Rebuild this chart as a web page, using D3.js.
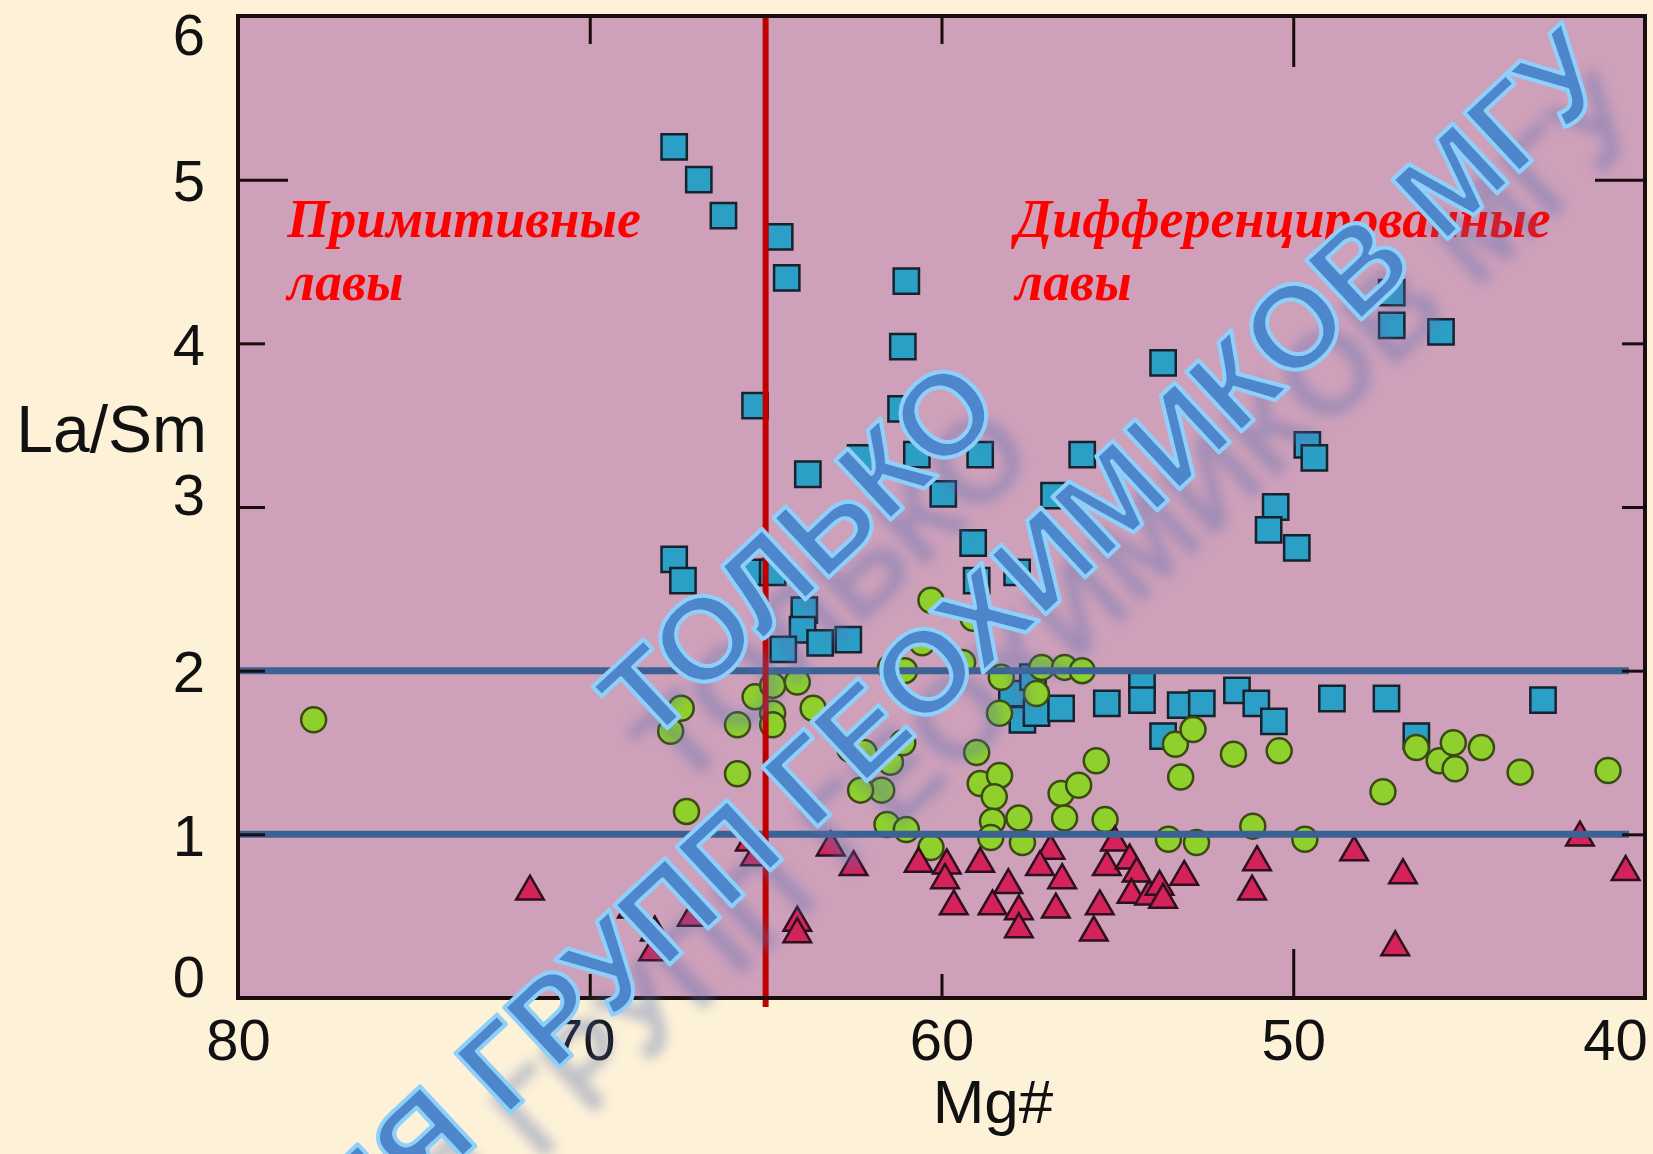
<!DOCTYPE html>
<html>
<head>
<meta charset="utf-8">
<script src="https://cdn.jsdelivr.net/npm/d3@7"></script>
<style>
  body { margin: 0; background: #fdf2d8; }
  svg { display: block; }
</style>
</head>
<body>
<svg id="chart"></svg>
<script>
// data: [Mg#, La/Sm]
var squares = [
  [67.6, 5.2], [66.9, 5.0], [66.2, 4.78], [64.6, 4.65], [64.4, 4.4], [61.0, 4.38], [61.1, 3.98],
  [65.3, 3.62], [61.15, 3.6], [63.8, 3.2], [62.3, 3.3], [60.7, 3.32], [58.9, 3.32], [59.95, 3.08],
  [56.0, 3.32], [56.8, 3.07], [59.1, 2.78], [59.0, 2.55], [57.85, 2.6], [67.6, 2.68], [67.35, 2.55],
  [65.4, 2.6], [64.8, 2.6], [63.9, 2.37], [63.95, 2.25], [64.5, 2.13], [63.45, 2.17], [62.65, 2.19],
  [58.0, 1.86], [57.7, 1.7], [57.3, 1.74], [56.6, 1.77], [57.4, 1.96], [55.3, 1.8], [54.3, 1.93],
  [54.3, 1.82], [53.7, 1.6], [53.2, 1.79], [52.6, 1.8], [51.6, 1.88], [51.05, 1.8], [50.55, 1.69],
  [48.9, 1.83], [47.35, 1.83], [46.5, 1.6], [42.9, 1.82], [49.6, 3.38], [49.4, 3.3], [50.5, 3.0],
  [50.7, 2.86], [49.9, 2.75], [47.2, 4.31], [47.2, 4.11], [45.8, 4.07], [53.7, 3.88]
];
var circles = [
  [77.85, 1.7], [67.4, 1.77], [67.7, 1.63], [65.8, 1.67], [65.3, 1.84], [64.8, 1.91], [64.1, 1.93],
  [64.8, 1.74], [64.8, 1.67], [63.65, 1.77], [65.8, 1.37], [67.25, 1.14], [62.6, 1.52], [62.2, 1.5],
  [61.45, 1.44], [61.7, 1.27], [62.3, 1.27], [60.3, 2.43], [59.1, 2.32], [60.55, 2.17], [61.45, 2.02],
  [61.05, 2.0], [59.4, 2.05], [58.3, 1.96], [57.15, 2.02], [56.5, 2.02], [56.0, 2.0], [57.3, 1.86],
  [58.35, 1.74], [61.1, 1.56], [59.0, 1.5], [58.9, 1.31], [58.35, 1.36], [58.5, 1.23], [58.55, 1.08],
  [57.8, 1.1], [58.6, 0.98], [57.7, 0.95], [56.6, 1.25], [56.1, 1.3], [56.5, 1.1], [55.6, 1.45],
  [55.35, 1.09], [61.55, 1.06], [61.0, 1.03], [60.3, 0.92], [53.35, 1.55], [52.85, 1.64], [53.2, 1.35],
  [53.55, 0.97], [52.75, 0.95], [51.7, 1.49], [51.15, 1.05], [50.4, 1.51], [49.67, 0.97], [47.45, 1.26],
  [46.5, 1.53], [45.85, 1.45], [45.45, 1.56], [45.4, 1.4], [44.65, 1.53], [43.55, 1.38], [41.05, 1.39]
];
var triangles = [
  [71.7, 0.65], [68.8, 0.54], [68.15, 0.4], [68.2, 0.28], [67.1, 0.49], [65.45, 0.95], [65.3, 0.86],
  [64.1, 0.46], [64.1, 0.39], [63.15, 0.92], [62.5, 0.8], [60.65, 0.82], [59.85, 0.81], [59.9, 0.72],
  [58.9, 0.82], [59.65, 0.56], [58.55, 0.56], [58.1, 0.69], [57.8, 0.53], [57.8, 0.42], [56.9, 0.9],
  [57.2, 0.8], [56.57, 0.72], [56.75, 0.54], [55.5, 0.56], [55.67, 0.4], [55.3, 0.8], [55.07, 0.95],
  [54.65, 0.84], [54.45, 0.76], [54.6, 0.63], [54.1, 0.62], [53.8, 0.68], [53.7, 0.6], [53.1, 0.74],
  [51.03, 0.83], [51.17, 0.65], [48.27, 0.89], [46.88, 0.75], [47.1, 0.31], [41.85, 0.98], [40.55, 0.77]
];

var xTicks = [80, 70, 60, 50, 40];
var yTicks = [0, 1, 2, 3, 4, 5, 6];
var hLines = [1, 2];      // blue reference lines
var vLine = 65;           // red boundary
var xLabel = "Mg#";
var yLabel = "La/Sm";
var regionLabels = [
  { mg: 78.6, lines: ["Примитивные", "лавы"] },
  { mg: 57.9, lines: ["Дифференцированные", "лавы"] }
];
var watermark = ["ТОЛЬКО", "ДЛЯ ГРУПП", "ГЕОХИМИКОВ МГУ"];

var W = 1653, H = 1154;
var svg = d3.select("#chart").attr("width", W).attr("height", H);

var x = d3.scaleLinear().domain([80, 40]).range([238, 1645]);
var y = d3.scaleLinear().domain([0, 6]).range([998, 16]);

var defs = svg.append("defs");
defs.append("filter").attr("id", "blur")
    .append("feGaussianBlur").attr("stdDeviation", 6);

svg.append("rect").attr("width", W).attr("height", H).attr("fill", "#fdf2d8");

// plot background
svg.append("rect")
    .attr("x", x(80)).attr("y", y(6))
    .attr("width", x(40) - x(80)).attr("height", y(0) - y(6))
    .attr("fill", "#cea0ba");

// markers
var sym = function(type, size) { return d3.symbol().type(type).size(size)(); };

svg.append("g").selectAll("path").data(squares).enter().append("path")
    .attr("d", sym(d3.symbolSquare, 640))
    .attr("transform", function(d) { return "translate(" + x(d[0]) + "," + y(d[1]) + ")"; })
    .attr("fill", "#2b9fc6").attr("stroke", "#16222e").attr("stroke-width", 2.5);

svg.append("g").selectAll("circle").data(circles).enter().append("circle")
    .attr("cx", function(d) { return x(d[0]); })
    .attr("cy", function(d) { return y(d[1]); })
    .attr("r", 12.5)
    .attr("fill", "#8fd02c").attr("stroke", "#3a4a12").attr("stroke-width", 2.5);

svg.append("g").selectAll("path").data(triangles).enter().append("path")
    .attr("d", sym(d3.symbolTriangle, 330))
    .attr("transform", function(d) { return "translate(" + x(d[0]) + "," + y(d[1]) + ")"; })
    .attr("fill", "#d3235a").attr("stroke", "#2e0f1c").attr("stroke-width", 2.5);

// reference lines
svg.append("g").selectAll("line").data(hLines).enter().append("line")
    .attr("x1", x(80)).attr("x2", 1629)
    .attr("y1", function(d) { return y(d); }).attr("y2", function(d) { return y(d); })
    .attr("stroke", "#3a6294").attr("stroke-width", 7);

svg.append("line")
    .attr("x1", x(vLine)).attr("x2", x(vLine))
    .attr("y1", y(6)).attr("y2", y(0) + 9)
    .attr("stroke", "#c00000").attr("stroke-width", 6);

// axes (inward ticks)
function styleAxis(g, longTick, longLen, dirAttr) {
  g.select(".domain").remove();
  g.selectAll(".tick line").attr("stroke", "#1a0d0d").attr("stroke-width", 3);
  g.selectAll(".tick line").filter(function(d) { return d === longTick; })
      .attr(dirAttr, longLen);
  g.selectAll("text").attr("font-family", "'Liberation Sans', Arial, sans-serif")
      .attr("font-size", 58).attr("fill", "#111");
}

svg.append("g").attr("transform", "translate(0," + y(0) + ")")
    .call(d3.axisBottom(x).tickValues(xTicks).tickSize(-24).tickPadding(21).tickFormat(d3.format("d")))
    .call(styleAxis, 50, -49, "y2")
    .selectAll("text").attr("dx", function(d) { return d === 40 ? -30 : (d === 70 ? -7 : 0); });

svg.append("g").attr("transform", "translate(0," + y(6) + ")")
    .call(d3.axisTop(x).tickValues(xTicks).tickSize(-28).tickFormat(""))
    .call(styleAxis, 50, 51, "y2");

svg.append("g").attr("transform", "translate(" + x(80) + ",0)")
    .call(d3.axisLeft(y).tickValues(yTicks).tickSize(-27).tickPadding(33).tickFormat(d3.format("d")))
    .call(styleAxis, 5, 50, "x2")
    .selectAll("text").attr("dy", function(d) {
      return d === 6 ? "0.66em" : d === 0 ? "-0.03em" : d === 3 ? "0.13em" : "0.36em";
    });

svg.append("g").attr("transform", "translate(" + x(40) + ",0)")
    .call(d3.axisRight(y).tickValues(yTicks).tickSize(-23).tickFormat(""))
    .call(styleAxis, 5, -50, "x2");

// frame
svg.append("rect")
    .attr("x", x(80)).attr("y", y(6))
    .attr("width", x(40) - x(80)).attr("height", y(0) - y(6))
    .attr("fill", "none").attr("stroke", "#1a0d0d").attr("stroke-width", 4);

// axis titles
svg.append("text")
    .attr("x", 207).attr("y", 452)
    .attr("text-anchor", "end")
    .attr("font-family", "'Liberation Sans', Arial, sans-serif")
    .attr("font-size", 66).attr("fill", "#111")
    .text(yLabel);

svg.append("text")
    .attr("x", 993).attr("y", 1123)
    .attr("text-anchor", "middle")
    .attr("font-family", "'Liberation Sans', Arial, sans-serif")
    .attr("font-size", 62).attr("fill", "#111")
    .text(xLabel);

// region labels
regionLabels.forEach(function(r) {
  var t = svg.append("text")
      .attr("font-family", "'Liberation Serif', 'Times New Roman', serif")
      .attr("font-style", "italic").attr("font-weight", "bold")
      .attr("font-size", 54).attr("fill", "#ff0000");
  r.lines.forEach(function(line, i) {
    t.append("tspan").attr("x", x(r.mg)).attr("y", 237 + i * 63).text(line);
  });
});

// watermark
var wm = svg.append("g").attr("font-family", "'Liberation Sans', Arial, sans-serif")
    .attr("font-size", 118).attr("font-weight", "bold");
var wmPos = [
  { t: watermark[0], x: 647, y: 747, anchor: "start" },
  { t: watermark[1], x: 788, y: 854, anchor: "end" },
  { t: watermark[2], x: 812, y: 832, anchor: "start" }
];
wmPos.forEach(function(p) {
  wm.append("text")
      .attr("transform", "translate(" + (p.x + 34) + "," + (p.y + 46) + ") rotate(-43)")
      .attr("text-anchor", p.anchor)
      .attr("fill", "#5a6fb2").attr("opacity", 0.38).attr("filter", "url(#blur)")
      .text(p.t);
});
wmPos.forEach(function(p) {
  wm.append("text")
      .attr("transform", "translate(" + p.x + "," + p.y + ") rotate(-43)")
      .attr("text-anchor", p.anchor)
      .attr("fill", "#4e86cb").attr("stroke", "#8fd0fa").attr("stroke-width", 4)
      .attr("stroke-linejoin", "round")
      .text(p.t);
});
</script>
</body>
</html>
